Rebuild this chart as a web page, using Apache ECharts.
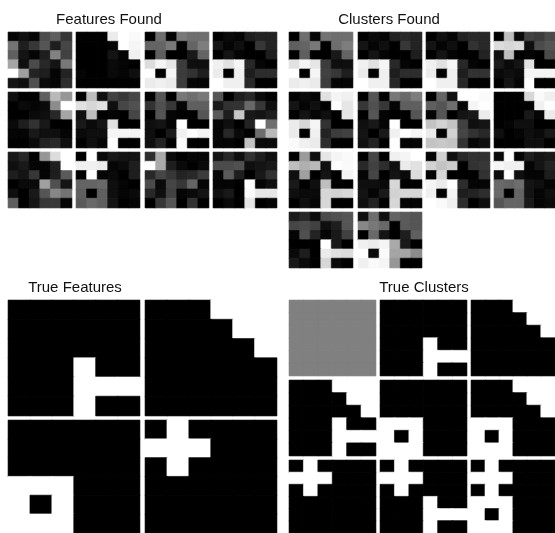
<!DOCTYPE html>
<html>
<head>
<meta charset="utf-8">
<style>html,body{margin:0;padding:0;background:#fff;overflow:hidden}#chart{width:555px;height:533px}</style>
<script src="https://cdn.jsdelivr.net/npm/echarts@6/dist/echarts.min.js"></script>
</head>
<body>
<div id="chart"></div>
<script>
// Grey levels (0 black .. 255 white), each panel has 6 rows of 6 cells.
const featuresFound = [
 [[5,15,5,75,95,55],[115,30,55,85,30,70],[95,20,5,30,130,65],[165,15,75,40,20,120],[255,160,35,30,5,35],[20,15,80,10,5,45]],
 [[0,0,0,235,255,250],[0,0,0,5,255,245],[0,0,0,20,5,240],[0,0,0,10,5,0],[5,0,0,10,5,15],[0,0,0,0,0,0]],
 [[0,110,5,120,110,110],[100,100,120,0,100,125],[0,95,0,0,25,100],[220,245,230,60,15,15],[255,0,245,60,50,30],[235,240,235,60,5,5]],
 [[0,10,5,30,35,35],[20,5,15,0,55,35],[0,20,5,0,0,30],[240,225,245,40,5,0],[235,0,240,30,45,45],[255,240,240,40,0,0]],
 [[15,0,0,95,185,150],[0,10,5,10,140,255],[0,0,10,15,40,165],[10,30,50,25,0,0],[5,5,25,15,15,5],[0,0,10,35,40,15]],
 [[0,190,15,65,55,70],[225,215,225,15,70,80],[15,190,0,5,0,70],[25,10,20,225,0,0],[10,15,15,245,245,245],[0,15,5,255,0,0]],
 [[0,85,0,120,110,120],[50,80,55,5,95,95],[0,85,5,0,0,85],[15,20,5,255,0,0],[15,0,25,240,255,245],[15,35,0,250,0,0]],
 [[85,0,30,40,10,0],[25,50,50,105,55,15],[90,30,200,25,20,30],[5,15,0,35,255,110],[5,40,10,0,110,185],[5,5,0,195,10,10]],
 [[25,40,0,150,220,255],[15,25,5,5,30,255],[30,20,55,5,30,90],[0,10,10,160,80,20],[15,0,25,85,135,115],[95,0,20,55,55,5]],
 [[0,255,10,25,20,20],[240,240,235,5,10,30],[0,255,5,10,0,30],[100,100,105,15,5,0],[95,0,95,15,5,10],[90,105,95,20,0,5]],
 [[45,170,10,0,5,5],[255,170,30,10,0,10],[40,70,55,35,40,60],[75,10,70,55,100,5],[40,15,65,5,10,20],[0,55,85,0,50,0]],
 [[20,40,15,50,30,15],[75,75,80,15,20,25],[5,90,30,0,25,50],[5,5,0,255,5,15],[15,25,0,250,230,230],[0,10,0,230,0,5]]
];
const clustersFound = [
 [[0,110,5,115,110,110],[95,100,120,0,110,125],[0,95,0,0,25,100],[225,245,230,60,15,15],[255,0,245,65,55,30],[235,240,235,60,5,5]],
 [[0,10,5,35,40,35],[20,5,15,0,55,35],[0,20,5,0,0,30],[240,225,245,40,5,0],[235,0,240,30,45,45],[255,240,240,40,0,0]],
 [[0,15,5,35,40,40],[20,5,15,0,50,40],[0,20,5,0,0,35],[240,225,245,40,5,0],[235,0,240,30,50,50],[255,240,240,40,0,0]],
 [[0,190,10,65,60,75],[220,215,220,15,75,85],[15,190,0,5,0,75],[25,10,20,225,0,0],[10,15,10,245,245,245],[0,20,5,255,0,0]],
 [[0,10,5,225,245,240],[20,5,15,0,255,230],[0,20,5,15,0,230],[235,215,245,50,0,0],[235,0,240,35,60,65],[250,240,235,45,0,0]],
 [[0,85,0,120,105,125],[55,80,55,5,95,95],[0,85,5,0,0,85],[15,25,5,255,0,0],[20,0,25,240,255,245],[15,35,0,255,5,5]],
 [[0,100,15,255,255,250],[95,85,110,5,245,255],[5,85,0,20,25,235],[195,210,195,65,15,20],[235,0,210,70,50,40],[195,200,195,50,5,15]],
 [[0,0,0,215,250,240],[0,0,0,0,240,255],[0,0,0,25,5,235],[0,5,15,15,0,0],[15,0,5,15,10,25],[0,0,0,15,15,0]],
 [[0,155,15,230,245,250],[190,175,185,15,255,250],[15,160,0,20,0,245],[25,0,15,190,0,0],[15,10,10,215,210,215],[0,15,5,215,0,0]],
 [[0,70,0,240,245,255],[40,65,45,15,235,225],[5,70,0,20,10,220],[15,15,10,215,0,0],[20,5,25,210,215,215],[15,35,0,215,5,5]],
 [[5,210,15,40,50,50],[210,195,205,0,50,55],[0,215,0,0,0,50],[245,235,255,45,5,5],[240,0,245,30,35,45],[255,250,240,45,0,15]],
 [[10,255,5,30,20,25],[245,240,240,5,20,35],[10,255,15,5,5,30],[105,100,110,20,15,5],[105,0,100,20,5,15],[85,100,100,25,5,10]],
 [[25,40,10,75,80,85],[70,75,65,15,30,85],[5,80,35,5,25,65],[0,0,0,255,25,0],[10,30,0,235,225,220],[25,10,0,215,10,0]],
 [[15,110,15,100,90,85],[135,120,105,0,90,85],[0,105,20,0,30,95],[240,235,245,170,25,0],[255,10,250,165,165,140],[240,250,245,150,0,0]]
];
const trueFeatures = [
 [[0,0,0,0,0,0],[0,0,0,0,0,0],[0,0,0,0,0,0],[0,0,0,255,0,0],[0,0,0,255,255,255],[0,0,0,255,0,0]],
 [[0,0,0,255,255,255],[0,0,0,0,255,255],[0,0,0,0,0,255],[0,0,0,0,0,0],[0,0,0,0,0,0],[0,0,0,0,0,0]],
 [[0,0,0,0,0,0],[0,0,0,0,0,0],[0,0,0,0,0,0],[255,255,255,0,0,0],[255,0,255,0,0,0],[255,255,255,0,0,0]],
 [[0,255,0,0,0,0],[255,255,255,0,0,0],[0,255,0,0,0,0],[0,0,0,0,0,0],[0,0,0,0,0,0],[0,0,0,0,0,0]]
];
const trueClusters = [
 [[128,128,128,128,128,128],[128,128,128,128,128,128],[128,128,128,128,128,128],[128,128,128,128,128,128],[128,128,128,128,128,128],[128,128,128,128,128,128]],
 [[0,0,0,0,0,0],[0,0,0,0,0,0],[0,0,0,0,0,0],[0,0,0,255,0,0],[0,0,0,255,255,255],[0,0,0,255,0,0]],
 [[0,0,0,255,255,255],[0,0,0,0,255,255],[0,0,0,0,0,255],[0,0,0,0,0,0],[0,0,0,0,0,0],[0,0,0,0,0,0]],
 [[0,0,0,255,255,255],[0,0,0,0,255,255],[0,0,0,0,0,255],[0,0,0,255,0,0],[0,0,0,255,255,255],[0,0,0,255,0,0]],
 [[0,0,0,0,0,0],[0,0,0,0,0,0],[0,0,0,0,0,0],[255,255,255,0,0,0],[255,0,255,0,0,0],[255,255,255,0,0,0]],
 [[0,0,0,255,255,255],[0,0,0,0,255,255],[0,0,0,0,0,255],[255,255,255,0,0,0],[255,0,255,0,0,0],[255,255,255,0,0,0]],
 [[0,255,0,0,0,0],[255,255,255,0,0,0],[0,255,0,0,0,0],[0,0,0,0,0,0],[0,0,0,0,0,0],[0,0,0,0,0,0]],
 [[0,255,0,0,0,0],[255,255,255,0,0,0],[0,255,0,0,0,0],[0,0,0,255,0,0],[0,0,0,255,255,255],[0,0,0,255,0,0]],
 [[0,255,0,0,0,0],[255,255,255,0,0,0],[0,255,0,0,0,0],[255,255,255,0,0,0],[255,0,255,0,0,0],[255,255,255,0,0,0]]
];
const cellIndex = ['0','1','2','3','4','5'];
const titles = ['Features Found','Clusters Found','True Features','True Clusters'];

// Layout: each group has panel left edges, top edges and panel size.
const groups = [
 {panels:featuresFound, xs:[8,76,145,213], ys:[32,92,152], w:64, h:56},
 {panels:clustersFound, xs:[289,358,426,494], ys:[32,92,152,212], w:64, h:56},
 {panels:trueFeatures, xs:[8,145], ys:[300,420], w:132, h:116},
 {panels:trueClusters, xs:[289,380,471], ys:[300,380,460], w:87, h:76}
];
const titlePos = [[109,20],[389,20],[75,288],[424,288]];
const inset = 0.3;

const grid=[], xAxis=[], yAxis=[], series=[];
groups.forEach(g=>{
  g.panels.forEach((m,i)=>{
    const c=i%g.xs.length, r=Math.floor(i/g.xs.length), k=grid.length;
    grid.push({left:g.xs[c]+inset,top:g.ys[r]+inset,width:g.w-2*inset,height:g.h-2*inset,show:false});
    xAxis.push({type:'category',gridIndex:k,data:cellIndex,show:false});
    yAxis.push({type:'category',gridIndex:k,data:cellIndex,show:false,inverse:true});
    const data=[];
    m.forEach((row,y)=>row.forEach((v,x)=>{
      const grey='rgb('+v+','+v+','+v+')';
      data.push({value:[x,y,v],itemStyle:{color:grey,borderColor:grey,borderWidth:0.6}});
    }));
    series.push({type:'heatmap',xAxisIndex:k,yAxisIndex:k,data,silent:true,
      progressive:0,emphasis:{disabled:true}});
  });
});

const chart=echarts.init(document.getElementById('chart'),null,{renderer:'canvas'});
chart.setOption({
  animation:false,
  backgroundColor:'#fff',
  title:titles.map((t,i)=>({text:t,left:titlePos[i][0],top:titlePos[i][1],padding:0,textAlign:'center',textVerticalAlign:'middle',
    textStyle:{fontFamily:'Liberation Sans',fontSize:15,fontWeight:'normal',color:'#111'}})),
  grid,xAxis,yAxis,series
});
</script>
</body>
</html>
